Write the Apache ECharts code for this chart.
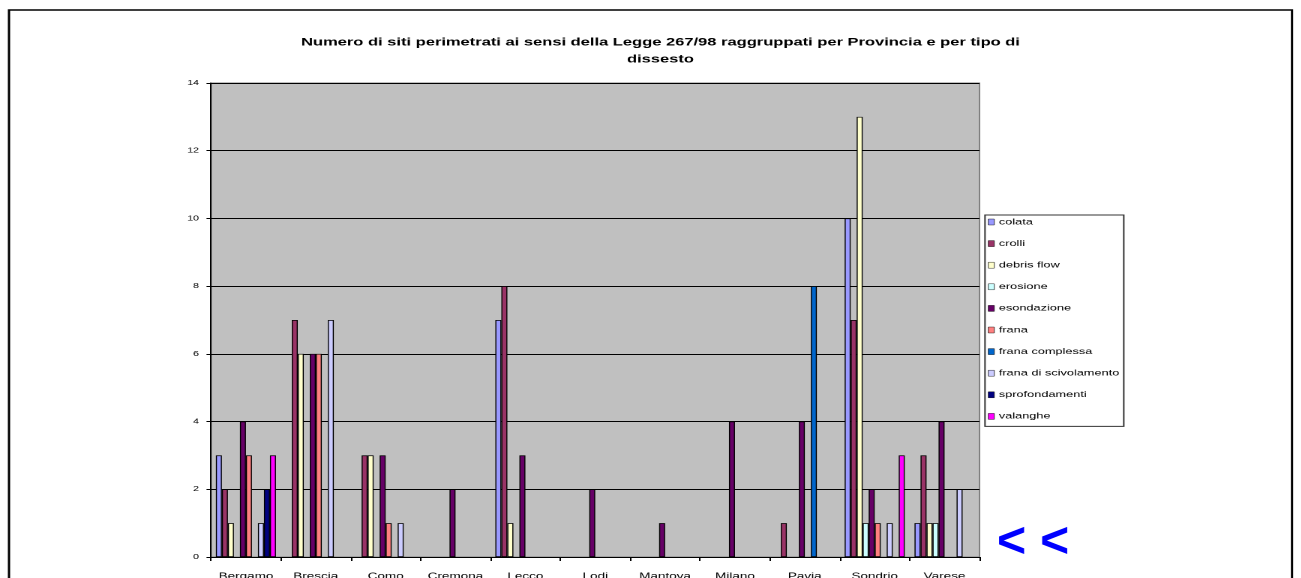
<!DOCTYPE html>
<html>
<head>
<meta charset="utf-8">
<title>Siti perimetrati per Provincia</title>
<script src="https://cdn.jsdelivr.net/npm/echarts@6/dist/echarts.min.js"></script>
<style>
  html, body { margin: 0; padding: 0; background: #fff; overflow: hidden; }
  /* The chart is laid out on a narrower canvas and widened horizontally,
     which gives the broad lettering of the printed sheet. */
  #chart {
    width: 867.333px;
    height: 578px;
    transform: scaleX(1.5);
    transform-origin: 0 0;
  }
</style>
</head>
<body>
<div id="chart"></div>
<script>
// Province (categories on the x axis)
const categories = ['Bergamo', 'Brescia', 'Como', 'Cremona', 'Lecco', 'Lodi', 'Mantova', 'Milano', 'Pavia', 'Sondrio', 'Varese'];

// Number of perimeter sites per type of instability, one value per province
const colata            = [3, 0, 0, 0, 7, 0, 0, 0, 0, 10, 1];
const crolli            = [2, 7, 3, 0, 8, 0, 0, 0, 1, 7, 3];
const debrisFlow        = [1, 6, 3, 0, 1, 0, 0, 0, 0, 13, 1];
const erosione          = [0, 0, 0, 0, 0, 0, 0, 0, 0, 1, 1];
const esondazione       = [4, 6, 3, 2, 3, 2, 1, 4, 4, 2, 4];
const frana             = [3, 6, 1, 0, 0, 0, 0, 0, 0, 1, 0];
const franaComplessa    = [0, 0, 0, 0, 0, 0, 0, 0, 8, 0, 0];
const franaScivolamento = [1, 7, 1, 0, 0, 0, 0, 0, 0, 1, 2];
const sprofondamenti    = [2, 0, 0, 0, 0, 0, 0, 0, 0, 0, 0];
const valanghe          = [3, 0, 0, 0, 0, 0, 0, 0, 0, 3, 0];

// Y axis ticks
const yTicks = [0, 2, 4, 6, 8, 10, 12, 14];

const seriesDefs = [
  ['colata', colata, '#9999FF'],
  ['crolli', crolli, '#993366'],
  ['debris flow', debrisFlow, '#FFFFCC'],
  ['erosione', erosione, '#CCFFFF'],
  ['esondazione', esondazione, '#660066'],
  ['frana', frana, '#FF8080'],
  ['frana complessa', franaComplessa, '#0066CC'],
  ['frana di scivolamento', franaScivolamento, '#CCCCFF'],
  ['sprofondamenti', sprofondamenti, '#000080'],
  ['valanghe', valanghe, '#FF00FF']
];

const SX = 1.5;               // horizontal widening applied by the stylesheet
const W = 1301 / SX;          // layout width before widening
const font = 'Arial, "Liberation Sans", sans-serif';

const chart = echarts.init(document.getElementById('chart'), null, { renderer: 'canvas', devicePixelRatio: 2 });

chart.setOption({
  animation: false,
  backgroundColor: '#ffffff',
  title: {
    text: 'Numero di siti perimetrati ai sensi della Legge 267/98 raggruppati per Provincia e per tipo di\ndissesto',
    left: 653 / SX,
    top: 29,
    textAlign: 'center',
    textStyle: { fontFamily: font, fontSize: 11, fontWeight: 'bold', color: '#000', lineHeight: 17 }
  },
  legend: {
    orient: 'vertical',
    left: 985 / SX,
    top: 215,
    padding: [2, 3, 5, 2],
    itemWidth: 4,
    itemHeight: 6,
    itemGap: 11.6,
    icon: 'rect',
    borderColor: '#333',
    borderWidth: 1,
    backgroundColor: '#fff',
    itemStyle: { borderColor: '#000', borderWidth: 0.4 },
    textStyle: { fontFamily: font, fontSize: 8.5, color: '#000', lineHeight: 10, padding: [0, 0, 0, -2] },
    data: seriesDefs.map(d => d[0])
  },
  grid: {
    left: 211 / SX,
    right: W - 980 / SX,
    top: 83,
    bottom: 21,
    outerBoundsMode: 'none',
    containLabel: false,
    show: true,
    backgroundColor: '#C0C0C0',
    borderColor: '#808080',
    borderWidth: 1
  },
  xAxis: {
    type: 'category',
    data: categories,
    axisLine: { lineStyle: { color: '#000', width: 1 } },
    axisTick: { show: true, length: 4, lineStyle: { color: '#000' } },
    axisLabel: { interval: 0, fontFamily: font, fontSize: 9, color: '#000', margin: 15 }
  },
  yAxis: {
    type: 'value',
    min: yTicks[0],
    max: yTicks[yTicks.length - 1],
    interval: 2,
    axisLine: { show: true, lineStyle: { color: '#000', width: 1 } },
    axisTick: { show: true, length: 3, lineStyle: { color: '#000' } },
    axisLabel: { fontFamily: font, fontSize: 7, color: '#000', margin: 8 },
    splitLine: { show: true, lineStyle: { color: '#000', width: 1 } }
  },
  series: seriesDefs.map(([name, values, color]) => ({
    name: name,
    type: 'bar',
    data: values.map(v => (v === 0 ? null : v)),
    barGap: '0%',
    barCategoryGap: '14%',
    itemStyle: { color: color, borderColor: '#000', borderWidth: 0.7 }
  })),
  graphic: [
    {
      type: 'rect',
      x: 9 / SX,
      y: 10,
      shape: { x: 0, y: 0, width: 1283 / SX, height: 600 },
      style: { fill: 'none', stroke: '#000', lineWidth: 1.5 },
      silent: true,
      z: 100
    },
    {
      type: 'text',
      x: 997 / SX,
      y: 518,
      scaleX: 1 / SX,
      style: { text: '< <', fill: '#0000FF', font: 'bold 50px Arial, "Liberation Sans", sans-serif', textVerticalAlign: 'top' },
      z: 100
    }
  ]
});
</script>
</body>
</html>
